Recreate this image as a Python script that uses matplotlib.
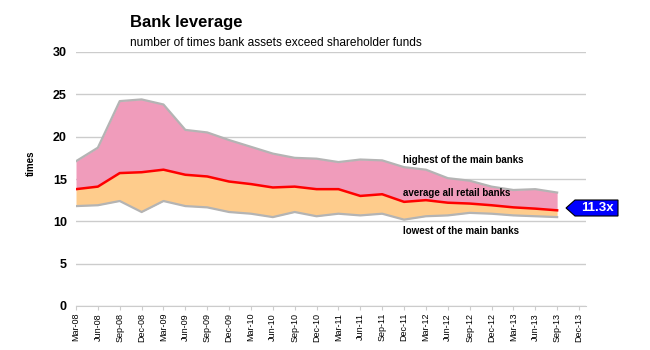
import matplotlib
matplotlib.use("Agg")
import matplotlib.pyplot as plt
from matplotlib.patches import Polygon

plt.rcParams['font.family'] = ['Liberation Sans', 'DejaVu Sans']

quarters = ["Mar-08", "Jun-08", "Sep-08", "Dec-08", "Mar-09", "Jun-09", "Sep-09", "Dec-09",
            "Mar-10", "Jun-10", "Sep-10", "Dec-10", "Mar-11", "Jun-11", "Sep-11", "Dec-11",
            "Mar-12", "Jun-12", "Sep-12", "Dec-12", "Mar-13", "Jun-13", "Sep-13", "Dec-13"]
highest = [17.1, 18.7, 24.2, 24.4, 23.8, 20.8, 20.5, 19.6, 18.8, 18.0, 17.5, 17.4,
           17.0, 17.3, 17.2, 16.4, 16.1, 15.1, 14.8, 14.1, 13.7, 13.8, 13.4]
average = [13.8, 14.1, 15.7, 15.8, 16.1, 15.5, 15.3, 14.7, 14.4, 14.0, 14.1, 13.8,
           13.8, 13.0, 13.2, 12.3, 12.5, 12.2, 12.1, 11.9, 11.65, 11.5, 11.3]
lowest = [11.8, 11.9, 12.4, 11.1, 12.4, 11.8, 11.65, 11.1, 10.9, 10.5, 11.1, 10.6,
          10.9, 10.7, 10.9, 10.2, 10.6, 10.7, 11.0, 10.9, 10.7, 10.6, 10.5]
yticks = [0, 5, 10, 15, 20, 25, 30]

fig = plt.figure(figsize=(6.5, 3.5), dpi=100)
ax = fig.add_axes([76/650, 44/350, (586-76)/650, (306-52)/350])

x = list(range(len(highest)))
ax.fill_between(x, average, highest, color="#F09CBB", linewidth=0, zorder=2)
ax.fill_between(x, lowest, average, color="#FECC8C", linewidth=0, zorder=2)
ax.plot(x, highest, color="#B4B4B4", lw=1.6, zorder=3)
ax.plot(x, lowest, color="#B4B4B4", lw=1.6, zorder=3)
ax.plot(x, average, color="#FF0000", lw=1.8, zorder=4)

ax.set_xlim(0, 23.32)
ax.set_ylim(0, 30)
ax.set_yticks(yticks)
ax.set_yticklabels([str(v) for v in yticks], fontsize=9, fontweight='bold')
ax.set_xticks(range(len(quarters)))
ax.set_xticklabels(quarters, rotation=90, fontsize=6.5)
ax.yaxis.grid(True, color="#CCCCCC", lw=1)
ax.set_axisbelow(True)
for s in ["top", "right", "left"]:
    ax.spines[s].set_visible(False)
ax.spines["bottom"].set_color("#CCCCCC")
ax.tick_params(axis='y', length=0, pad=6.5)
ax.tick_params(axis='x', length=3, color="#CCCCCC", pad=2)
ax.set_ylabel("times", fontsize=7, fontweight='bold')
ax.yaxis.set_label_coords(-0.078, 0.563)

# series labels
ax.text(14.95, 17.2, "highest of the main banks", fontsize=7, fontweight='bold', va='center')
ax.text(14.95, 13.3, "average all retail banks", fontsize=7, fontweight='bold', va='center')
ax.text(14.95, 8.85, "lowest of the main banks", fontsize=7, fontweight='bold', va='center')

# callout
last = average[-1]
fig_pts = [(566, 208), (575, 200), (618, 200), (618, 216), (575, 216)]
poly = Polygon([(px/650, 1 - py/350) for px, py in fig_pts], closed=True,
               transform=fig.transFigure, facecolor="#0000FF", edgecolor="black",
               lw=0.8, zorder=10)
fig.patches.append(poly)
fig.text(597/650, 1 - 208/350, f"{last}x", color="white", fontsize=9.5,
         fontweight='bold', ha='center', va='center', zorder=11)

fig.text(130/650, 1 - 22/350, "Bank leverage", fontsize=12, fontweight='bold',
         ha='left', va='center')
fig.text(130/650, 1 - 43/350, "number of times bank assets exceed shareholder funds",
         fontsize=8.6, ha='left', va='center')

fig.savefig("out.png", dpi=100)
